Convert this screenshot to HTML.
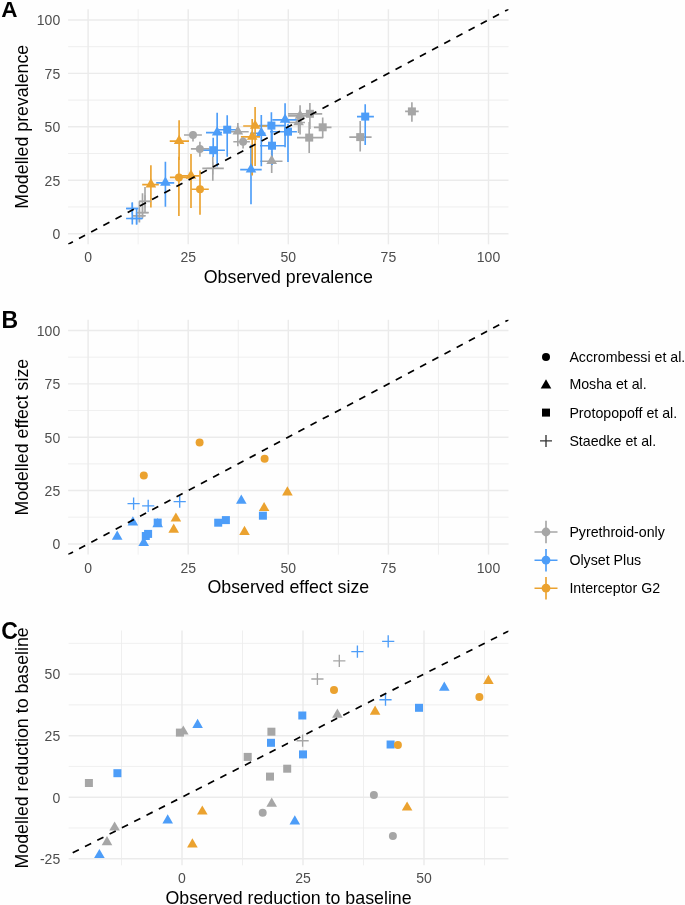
<!DOCTYPE html>
<html><head><meta charset="utf-8"><title>Figure</title>
<style>
html,body{margin:0;padding:0;background:#fefefe;}
body{width:685px;height:905px;overflow:hidden;}
svg{display:block;will-change:transform;}
text{font-family:"Liberation Sans",sans-serif;}
.tk{font-size:14px;fill:#4d4d4d;}
.ti{font-size:17.8px;fill:#000;}
.lg{font-size:14.2px;fill:#000;}
.tag{font-size:23px;font-weight:bold;fill:#000;}
</style></head>
<body>
<svg width="685" height="905" viewBox="0 0 685 905">
<rect width="685" height="905" fill="#fefefe"/>
<defs>
<clipPath id="ca"><rect x="68.08" y="9.24" width="440.44" height="235.09"/></clipPath>
<clipPath id="cb"><rect x="68.08" y="319.8" width="440.44" height="234.8"/></clipPath>
<clipPath id="cc"><rect x="68.7" y="630.5" width="439.7" height="234.8"/></clipPath>
</defs>
<line x1="68.08" y1="206.94" x2="508.52" y2="206.94" stroke="#ebebeb" stroke-width="0.8"/>
<line x1="68.08" y1="153.51" x2="508.52" y2="153.51" stroke="#ebebeb" stroke-width="0.8"/>
<line x1="68.08" y1="100.09" x2="508.52" y2="100.09" stroke="#ebebeb" stroke-width="0.8"/>
<line x1="68.08" y1="46.66" x2="508.52" y2="46.66" stroke="#ebebeb" stroke-width="0.8"/>
<line x1="138.15" y1="9.24" x2="138.15" y2="244.33" stroke="#ebebeb" stroke-width="0.8"/>
<line x1="238.25" y1="9.24" x2="238.25" y2="244.33" stroke="#ebebeb" stroke-width="0.8"/>
<line x1="338.35" y1="9.24" x2="338.35" y2="244.33" stroke="#ebebeb" stroke-width="0.8"/>
<line x1="438.45" y1="9.24" x2="438.45" y2="244.33" stroke="#ebebeb" stroke-width="0.8"/>
<line x1="68.08" y1="233.65" x2="508.52" y2="233.65" stroke="#ebebeb" stroke-width="1.45"/>
<line x1="68.08" y1="180.23" x2="508.52" y2="180.23" stroke="#ebebeb" stroke-width="1.45"/>
<line x1="68.08" y1="126.8" x2="508.52" y2="126.8" stroke="#ebebeb" stroke-width="1.45"/>
<line x1="68.08" y1="73.38" x2="508.52" y2="73.38" stroke="#ebebeb" stroke-width="1.45"/>
<line x1="68.08" y1="19.95" x2="508.52" y2="19.95" stroke="#ebebeb" stroke-width="1.45"/>
<line x1="88.1" y1="9.24" x2="88.1" y2="244.33" stroke="#ebebeb" stroke-width="1.45"/>
<line x1="188.2" y1="9.24" x2="188.2" y2="244.33" stroke="#ebebeb" stroke-width="1.45"/>
<line x1="288.3" y1="9.24" x2="288.3" y2="244.33" stroke="#ebebeb" stroke-width="1.45"/>
<line x1="388.4" y1="9.24" x2="388.4" y2="244.33" stroke="#ebebeb" stroke-width="1.45"/>
<line x1="488.5" y1="9.24" x2="488.5" y2="244.33" stroke="#ebebeb" stroke-width="1.45"/>
<g clip-path="url(#ca)">
<path d="M184 135H201.9" stroke="#a6a6a6" stroke-width="1.65" fill="none"/>
<path d="M190.9 148.9H209.2" stroke="#a6a6a6" stroke-width="1.65" fill="none"/>
<path d="M233.3 141.7H249.9" stroke="#a6a6a6" stroke-width="1.65" fill="none"/>
<path d="M228.7 131.7H248.7" stroke="#a6a6a6" stroke-width="1.65" fill="none"/>
<path d="M260.3 161.2H282.5" stroke="#a6a6a6" stroke-width="1.65" fill="none"/>
<path d="M288.1 115.8H307.4" stroke="#a6a6a6" stroke-width="1.65" fill="none"/>
<path d="M288.1 122.5H305" stroke="#a6a6a6" stroke-width="1.65" fill="none"/>
<path d="M288 113.8H322.2" stroke="#a6a6a6" stroke-width="1.65" fill="none"/>
<path d="M313.9 127.3H331.5" stroke="#a6a6a6" stroke-width="1.65" fill="none"/>
<path d="M297 137.6H323.2" stroke="#a6a6a6" stroke-width="1.65" fill="none"/>
<path d="M349.3 137.1H371.6" stroke="#a6a6a6" stroke-width="1.65" fill="none"/>
<path d="M405.1 111.4H418.7" stroke="#a6a6a6" stroke-width="1.65" fill="none"/>
<path d="M132.8 215.7H145.5" stroke="#a6a6a6" stroke-width="1.65" fill="none"/>
<path d="M137.4 212.6H148.6" stroke="#a6a6a6" stroke-width="1.65" fill="none"/>
<path d="M139.2 201.4H150.7" stroke="#a6a6a6" stroke-width="1.65" fill="none"/>
<path d="M202.3 168.4H223.8" stroke="#a6a6a6" stroke-width="1.65" fill="none"/>
<path d="M156.2 182.9H174.2" stroke="#4d9df8" stroke-width="1.65" fill="none"/>
<path d="M206 132.6H222" stroke="#4d9df8" stroke-width="1.65" fill="none"/>
<path d="M240.2 169.6H261.7" stroke="#4d9df8" stroke-width="1.65" fill="none"/>
<path d="M250.2 133.2H265.4" stroke="#4d9df8" stroke-width="1.65" fill="none"/>
<path d="M272.3 119.9H296.9" stroke="#4d9df8" stroke-width="1.65" fill="none"/>
<path d="M201.2 150.2H224.9" stroke="#4d9df8" stroke-width="1.65" fill="none"/>
<path d="M219 129.7H239" stroke="#4d9df8" stroke-width="1.65" fill="none"/>
<path d="M259 125.6H285" stroke="#4d9df8" stroke-width="1.65" fill="none"/>
<path d="M260 145.7H284.9" stroke="#4d9df8" stroke-width="1.65" fill="none"/>
<path d="M270 131.7H296.9" stroke="#4d9df8" stroke-width="1.65" fill="none"/>
<path d="M357 116.6H373.9" stroke="#4d9df8" stroke-width="1.65" fill="none"/>
<path d="M126.1 208.5H137.9" stroke="#4d9df8" stroke-width="1.65" fill="none"/>
<path d="M126.1 218.5H142" stroke="#4d9df8" stroke-width="1.65" fill="none"/>
<path d="M169.9 177.4H187.5" stroke="#eba22f" stroke-width="1.65" fill="none"/>
<path d="M191.5 189.2H208.8" stroke="#eba22f" stroke-width="1.65" fill="none"/>
<path d="M142.2 184.6H158.8" stroke="#eba22f" stroke-width="1.65" fill="none"/>
<path d="M169.75 141.05H189" stroke="#eba22f" stroke-width="1.65" fill="none"/>
<path d="M181.1 175.8H199.5" stroke="#eba22f" stroke-width="1.65" fill="none"/>
<path d="M243.2 126H267.1" stroke="#eba22f" stroke-width="1.65" fill="none"/>
<path d="M240.9 136.9H260" stroke="#eba22f" stroke-width="1.65" fill="none"/>
<path d="M193 131.2V141.4" stroke="#a6a6a6" stroke-width="1.65" fill="none"/>
<path d="M199.9 141.8V156.8" stroke="#a6a6a6" stroke-width="1.65" fill="none"/>
<path d="M243.1 137.3V148.4" stroke="#a6a6a6" stroke-width="1.65" fill="none"/>
<path d="M237.85 123V146.3" stroke="#a6a6a6" stroke-width="1.65" fill="none"/>
<path d="M271.7 150.5V172.9" stroke="#a6a6a6" stroke-width="1.65" fill="none"/>
<path d="M300.07 105.2V134.4" stroke="#a6a6a6" stroke-width="1.65" fill="none"/>
<path d="M298.6 117V133" stroke="#a6a6a6" stroke-width="1.65" fill="none"/>
<path d="M309.9 102.9V129" stroke="#a6a6a6" stroke-width="1.65" fill="none"/>
<path d="M322.7 117.4V137.8" stroke="#a6a6a6" stroke-width="1.65" fill="none"/>
<path d="M309.2 122V153" stroke="#a6a6a6" stroke-width="1.65" fill="none"/>
<path d="M360.2 121.1V151.5" stroke="#a6a6a6" stroke-width="1.65" fill="none"/>
<path d="M411.9 102.3V121.8" stroke="#a6a6a6" stroke-width="1.65" fill="none"/>
<path d="M139.4 201.4V222.6" stroke="#a6a6a6" stroke-width="1.65" fill="none"/>
<path d="M142.5 193.2V217.7" stroke="#a6a6a6" stroke-width="1.65" fill="none"/>
<path d="M145 187V212.1" stroke="#a6a6a6" stroke-width="1.65" fill="none"/>
<path d="M212.8 156.7V180.8" stroke="#a6a6a6" stroke-width="1.65" fill="none"/>
<path d="M165.4 161.8V206.7" stroke="#4d9df8" stroke-width="1.65" fill="none"/>
<path d="M217.15 112.8V166.6" stroke="#4d9df8" stroke-width="1.65" fill="none"/>
<path d="M251 144.7V204.2" stroke="#4d9df8" stroke-width="1.65" fill="none"/>
<path d="M261.3 115V166.3" stroke="#4d9df8" stroke-width="1.65" fill="none"/>
<path d="M285.07 103.2V147.2" stroke="#4d9df8" stroke-width="1.65" fill="none"/>
<path d="M213.2 137.8V157" stroke="#4d9df8" stroke-width="1.65" fill="none"/>
<path d="M227.2 115.3V156.8" stroke="#4d9df8" stroke-width="1.65" fill="none"/>
<path d="M271.4 112.2V150" stroke="#4d9df8" stroke-width="1.65" fill="none"/>
<path d="M272 129.7V165" stroke="#4d9df8" stroke-width="1.65" fill="none"/>
<path d="M288 123.9V162.1" stroke="#4d9df8" stroke-width="1.65" fill="none"/>
<path d="M365.2 104.3V145" stroke="#4d9df8" stroke-width="1.65" fill="none"/>
<path d="M132.3 202.4V224.6" stroke="#4d9df8" stroke-width="1.65" fill="none"/>
<path d="M136.6 208.5V224.6" stroke="#4d9df8" stroke-width="1.65" fill="none"/>
<path d="M178.9 156.7V216" stroke="#eba22f" stroke-width="1.65" fill="none"/>
<path d="M200 170.5V214.7" stroke="#eba22f" stroke-width="1.65" fill="none"/>
<path d="M150.9 165.3V207.6" stroke="#eba22f" stroke-width="1.65" fill="none"/>
<path d="M179.1 120.3V160" stroke="#eba22f" stroke-width="1.65" fill="none"/>
<path d="M191 154.1V207.9" stroke="#eba22f" stroke-width="1.65" fill="none"/>
<path d="M255.1 107V166" stroke="#eba22f" stroke-width="1.65" fill="none"/>
<path d="M252.2 119V175.4" stroke="#eba22f" stroke-width="1.65" fill="none"/>
<circle cx="193" cy="135" r="4" fill="#a6a6a6"/>
<circle cx="199.9" cy="148.9" r="4" fill="#a6a6a6"/>
<circle cx="243.1" cy="141.7" r="4" fill="#a6a6a6"/>
<path d="M237.85 125.35L243.15 134.55L232.55 134.55Z" fill="#a6a6a6"/>
<path d="M271.7 154.85L277 164.05L266.4 164.05Z" fill="#a6a6a6"/>
<path d="M300.07 109.45L305.37 118.65L294.77 118.65Z" fill="#a6a6a6"/>
<path d="M298.6 116.15L303.9 125.35L293.3 125.35Z" fill="#a6a6a6"/>
<rect x="305.9" y="109.8" width="8" height="8" fill="#a6a6a6"/>
<rect x="318.7" y="123.3" width="8" height="8" fill="#a6a6a6"/>
<rect x="305.2" y="133.6" width="8" height="8" fill="#a6a6a6"/>
<rect x="356.2" y="133.1" width="8" height="8" fill="#a6a6a6"/>
<rect x="407.9" y="107.4" width="8" height="8" fill="#a6a6a6"/>
<path d="M133.3 215.7H145.5M139.4 209.6V221.8" stroke="#a6a6a6" stroke-width="1.35" fill="none"/>
<path d="M136.4 212.6H148.6M142.5 206.5V218.7" stroke="#a6a6a6" stroke-width="1.35" fill="none"/>
<path d="M138.9 201.4H151.1M145 195.3V207.5" stroke="#a6a6a6" stroke-width="1.35" fill="none"/>
<path d="M206.7 168.4H218.9M212.8 162.3V174.5" stroke="#a6a6a6" stroke-width="1.35" fill="none"/>
<path d="M165.4 176.55L170.7 185.75L160.1 185.75Z" fill="#4d9df8"/>
<path d="M217.15 126.25L222.45 135.45L211.85 135.45Z" fill="#4d9df8"/>
<path d="M251 163.25L256.3 172.45L245.7 172.45Z" fill="#4d9df8"/>
<path d="M261.3 126.85L266.6 136.05L256 136.05Z" fill="#4d9df8"/>
<path d="M285.07 113.55L290.37 122.75L279.77 122.75Z" fill="#4d9df8"/>
<rect x="209.2" y="146.2" width="8" height="8" fill="#4d9df8"/>
<rect x="223.2" y="125.7" width="8" height="8" fill="#4d9df8"/>
<rect x="267.4" y="121.6" width="8" height="8" fill="#4d9df8"/>
<rect x="268" y="141.7" width="8" height="8" fill="#4d9df8"/>
<rect x="284" y="127.7" width="8" height="8" fill="#4d9df8"/>
<rect x="361.2" y="112.6" width="8" height="8" fill="#4d9df8"/>
<path d="M126.2 208.5H138.4M132.3 202.4V214.6" stroke="#4d9df8" stroke-width="1.35" fill="none"/>
<path d="M130.5 218.5H142.7M136.6 212.4V224.6" stroke="#4d9df8" stroke-width="1.35" fill="none"/>
<circle cx="178.9" cy="177.4" r="4" fill="#eba22f"/>
<circle cx="200" cy="189.2" r="4" fill="#eba22f"/>
<path d="M150.9 178.25L156.2 187.45L145.6 187.45Z" fill="#eba22f"/>
<path d="M179.1 134.7L184.4 143.9L173.8 143.9Z" fill="#eba22f"/>
<path d="M191 169.45L196.3 178.65L185.7 178.65Z" fill="#eba22f"/>
<path d="M255.1 119.65L260.4 128.85L249.8 128.85Z" fill="#eba22f"/>
<path d="M252.2 130.55L257.5 139.75L246.9 139.75Z" fill="#eba22f"/>
<line x1="-372.36" y1="479.4" x2="948.96" y2="-225.8" stroke="#000" stroke-width="1.7" stroke-dasharray="6.9 6.9" stroke-dashoffset="-1.0"/>
</g>
<text x="60.2" y="233.95" class="tk" text-anchor="end" dominant-baseline="central">0</text>
<text x="60.2" y="180.53" class="tk" text-anchor="end" dominant-baseline="central">25</text>
<text x="60.2" y="127.1" class="tk" text-anchor="end" dominant-baseline="central">50</text>
<text x="60.2" y="73.67" class="tk" text-anchor="end" dominant-baseline="central">75</text>
<text x="60.2" y="20.25" class="tk" text-anchor="end" dominant-baseline="central">100</text>
<text x="88.1" y="262.3" class="tk" text-anchor="middle">0</text>
<text x="188.2" y="262.3" class="tk" text-anchor="middle">25</text>
<text x="288.3" y="262.3" class="tk" text-anchor="middle">50</text>
<text x="388.4" y="262.3" class="tk" text-anchor="middle">75</text>
<text x="488.5" y="262.3" class="tk" text-anchor="middle">100</text>
<line x1="68.08" y1="517.23" x2="508.52" y2="517.23" stroke="#ebebeb" stroke-width="0.8"/>
<line x1="68.08" y1="463.88" x2="508.52" y2="463.88" stroke="#ebebeb" stroke-width="0.8"/>
<line x1="68.08" y1="410.52" x2="508.52" y2="410.52" stroke="#ebebeb" stroke-width="0.8"/>
<line x1="68.08" y1="357.17" x2="508.52" y2="357.17" stroke="#ebebeb" stroke-width="0.8"/>
<line x1="138.15" y1="319.8" x2="138.15" y2="554.6" stroke="#ebebeb" stroke-width="0.8"/>
<line x1="238.25" y1="319.8" x2="238.25" y2="554.6" stroke="#ebebeb" stroke-width="0.8"/>
<line x1="338.35" y1="319.8" x2="338.35" y2="554.6" stroke="#ebebeb" stroke-width="0.8"/>
<line x1="438.45" y1="319.8" x2="438.45" y2="554.6" stroke="#ebebeb" stroke-width="0.8"/>
<line x1="68.08" y1="543.9" x2="508.52" y2="543.9" stroke="#ebebeb" stroke-width="1.45"/>
<line x1="68.08" y1="490.55" x2="508.52" y2="490.55" stroke="#ebebeb" stroke-width="1.45"/>
<line x1="68.08" y1="437.2" x2="508.52" y2="437.2" stroke="#ebebeb" stroke-width="1.45"/>
<line x1="68.08" y1="383.85" x2="508.52" y2="383.85" stroke="#ebebeb" stroke-width="1.45"/>
<line x1="68.08" y1="330.5" x2="508.52" y2="330.5" stroke="#ebebeb" stroke-width="1.45"/>
<line x1="88.1" y1="319.8" x2="88.1" y2="554.6" stroke="#ebebeb" stroke-width="1.45"/>
<line x1="188.2" y1="319.8" x2="188.2" y2="554.6" stroke="#ebebeb" stroke-width="1.45"/>
<line x1="288.3" y1="319.8" x2="288.3" y2="554.6" stroke="#ebebeb" stroke-width="1.45"/>
<line x1="388.4" y1="319.8" x2="388.4" y2="554.6" stroke="#ebebeb" stroke-width="1.45"/>
<line x1="488.5" y1="319.8" x2="488.5" y2="554.6" stroke="#ebebeb" stroke-width="1.45"/>
<g clip-path="url(#cb)">
<path d="M117.2 530.6L122.5 539.8L111.9 539.8Z" fill="#4d9df8"/>
<path d="M132.9 516.3L138.2 525.5L127.6 525.5Z" fill="#4d9df8"/>
<path d="M143.7 536.8L149 546L138.4 546Z" fill="#4d9df8"/>
<path d="M157.7 518L163 527.2L152.4 527.2Z" fill="#4d9df8"/>
<path d="M241.3 494.6L246.6 503.8L236 503.8Z" fill="#4d9df8"/>
<rect x="153.7" y="518.6" width="8" height="8" fill="#4d9df8"/>
<rect x="141.8" y="532" width="8" height="8" fill="#4d9df8"/>
<rect x="144.1" y="529.9" width="8" height="8" fill="#4d9df8"/>
<rect x="214.2" y="518.7" width="8" height="8" fill="#4d9df8"/>
<rect x="221.9" y="516.1" width="8" height="8" fill="#4d9df8"/>
<rect x="258.9" y="511.7" width="8" height="8" fill="#4d9df8"/>
<path d="M127.5 503.6H139.7M133.6 497.5V509.7" stroke="#4d9df8" stroke-width="1.35" fill="none"/>
<path d="M142.1 505.8H154.3M148.2 499.7V511.9" stroke="#4d9df8" stroke-width="1.35" fill="none"/>
<path d="M173.6 501.6H185.8M179.7 495.5V507.7" stroke="#4d9df8" stroke-width="1.35" fill="none"/>
<circle cx="143.8" cy="475.4" r="4" fill="#eba22f"/>
<circle cx="199.6" cy="442.4" r="4" fill="#eba22f"/>
<circle cx="264.6" cy="458.7" r="4" fill="#eba22f"/>
<path d="M175.9 512.4L181.2 521.6L170.6 521.6Z" fill="#eba22f"/>
<path d="M173.7 523.6L179 532.8L168.4 532.8Z" fill="#eba22f"/>
<path d="M264.1 501.9L269.4 511.1L258.8 511.1Z" fill="#eba22f"/>
<path d="M287.4 486.3L292.7 495.5L282.1 495.5Z" fill="#eba22f"/>
<path d="M244.5 525.8L249.8 535L239.2 535Z" fill="#eba22f"/>
<line x1="-372.36" y1="789.31" x2="948.96" y2="85.09" stroke="#000" stroke-width="1.7" stroke-dasharray="6.9 6.9" stroke-dashoffset="-1.0"/>
</g>
<text x="60.2" y="544.2" class="tk" text-anchor="end" dominant-baseline="central">0</text>
<text x="60.2" y="490.85" class="tk" text-anchor="end" dominant-baseline="central">25</text>
<text x="60.2" y="437.5" class="tk" text-anchor="end" dominant-baseline="central">50</text>
<text x="60.2" y="384.15" class="tk" text-anchor="end" dominant-baseline="central">75</text>
<text x="60.2" y="330.8" class="tk" text-anchor="end" dominant-baseline="central">100</text>
<text x="88.1" y="573" class="tk" text-anchor="middle">0</text>
<text x="188.2" y="573" class="tk" text-anchor="middle">25</text>
<text x="288.3" y="573" class="tk" text-anchor="middle">50</text>
<text x="388.4" y="573" class="tk" text-anchor="middle">75</text>
<text x="488.5" y="573" class="tk" text-anchor="middle">100</text>
<line x1="68.7" y1="827.98" x2="508.4" y2="827.98" stroke="#ebebeb" stroke-width="0.8"/>
<line x1="68.7" y1="766.43" x2="508.4" y2="766.43" stroke="#ebebeb" stroke-width="0.8"/>
<line x1="68.7" y1="704.88" x2="508.4" y2="704.88" stroke="#ebebeb" stroke-width="0.8"/>
<line x1="68.7" y1="643.33" x2="508.4" y2="643.33" stroke="#ebebeb" stroke-width="0.8"/>
<line x1="121.5" y1="630.5" x2="121.5" y2="865.3" stroke="#ebebeb" stroke-width="0.8"/>
<line x1="242.5" y1="630.5" x2="242.5" y2="865.3" stroke="#ebebeb" stroke-width="0.8"/>
<line x1="363.5" y1="630.5" x2="363.5" y2="865.3" stroke="#ebebeb" stroke-width="0.8"/>
<line x1="484.5" y1="630.5" x2="484.5" y2="865.3" stroke="#ebebeb" stroke-width="0.8"/>
<line x1="68.7" y1="858.75" x2="508.4" y2="858.75" stroke="#ebebeb" stroke-width="1.45"/>
<line x1="68.7" y1="797.2" x2="508.4" y2="797.2" stroke="#ebebeb" stroke-width="1.45"/>
<line x1="68.7" y1="735.65" x2="508.4" y2="735.65" stroke="#ebebeb" stroke-width="1.45"/>
<line x1="68.7" y1="674.1" x2="508.4" y2="674.1" stroke="#ebebeb" stroke-width="1.45"/>
<line x1="182" y1="630.5" x2="182" y2="865.3" stroke="#ebebeb" stroke-width="1.45"/>
<line x1="303" y1="630.5" x2="303" y2="865.3" stroke="#ebebeb" stroke-width="1.45"/>
<line x1="424" y1="630.5" x2="424" y2="865.3" stroke="#ebebeb" stroke-width="1.45"/>
<g clip-path="url(#cc)">
<circle cx="373.9" cy="795.1" r="4" fill="#a6a6a6"/>
<circle cx="392.9" cy="835.9" r="4" fill="#a6a6a6"/>
<circle cx="262.7" cy="812.8" r="4" fill="#a6a6a6"/>
<path d="M114.6 821.4L119.9 830.6L109.3 830.6Z" fill="#a6a6a6"/>
<path d="M107 836L112.3 845.2L101.7 845.2Z" fill="#a6a6a6"/>
<path d="M183.3 725.4L188.6 734.6L178 734.6Z" fill="#a6a6a6"/>
<path d="M271.7 797.6L277 806.8L266.4 806.8Z" fill="#a6a6a6"/>
<path d="M337.4 708.6L342.7 717.8L332.1 717.8Z" fill="#a6a6a6"/>
<rect x="175.9" y="728.6" width="8" height="8" fill="#a6a6a6"/>
<rect x="84.9" y="779" width="8" height="8" fill="#a6a6a6"/>
<rect x="243.7" y="752.9" width="8" height="8" fill="#a6a6a6"/>
<rect x="267.4" y="727.7" width="8" height="8" fill="#a6a6a6"/>
<rect x="266" y="772.6" width="8" height="8" fill="#a6a6a6"/>
<rect x="283.2" y="764.7" width="8" height="8" fill="#a6a6a6"/>
<path d="M333.2 660.8H345.4M339.3 654.7V666.9" stroke="#a6a6a6" stroke-width="1.35" fill="none"/>
<path d="M311.3 679H323.5M317.4 672.9V685.1" stroke="#a6a6a6" stroke-width="1.35" fill="none"/>
<path d="M296.5 740.7H308.7M302.6 734.6V746.8" stroke="#a6a6a6" stroke-width="1.35" fill="none"/>
<path d="M99.4 848.9L104.7 858.1L94.1 858.1Z" fill="#4d9df8"/>
<path d="M167.7 814.3L173 823.5L162.4 823.5Z" fill="#4d9df8"/>
<path d="M197.6 718.7L202.9 727.9L192.3 727.9Z" fill="#4d9df8"/>
<path d="M294.8 815.3L300.1 824.5L289.5 824.5Z" fill="#4d9df8"/>
<path d="M444.3 681.5L449.6 690.7L439 690.7Z" fill="#4d9df8"/>
<rect x="113.4" y="769.2" width="8" height="8" fill="#4d9df8"/>
<rect x="267" y="738.8" width="8" height="8" fill="#4d9df8"/>
<rect x="298.3" y="711.5" width="8" height="8" fill="#4d9df8"/>
<rect x="299" y="750.4" width="8" height="8" fill="#4d9df8"/>
<rect x="386.6" y="740.5" width="8" height="8" fill="#4d9df8"/>
<rect x="415" y="703.8" width="8" height="8" fill="#4d9df8"/>
<path d="M351.3 651.6H363.5M357.4 645.5V657.7" stroke="#4d9df8" stroke-width="1.35" fill="none"/>
<path d="M382.1 641.3H394.3M388.2 635.2V647.4" stroke="#4d9df8" stroke-width="1.35" fill="none"/>
<path d="M379.4 699.7H391.6M385.5 693.6V705.8" stroke="#4d9df8" stroke-width="1.35" fill="none"/>
<circle cx="334" cy="689.9" r="4" fill="#eba22f"/>
<circle cx="479.4" cy="697.1" r="4" fill="#eba22f"/>
<circle cx="397.9" cy="745" r="4" fill="#eba22f"/>
<path d="M192.4 838.3L197.7 847.5L187.1 847.5Z" fill="#eba22f"/>
<path d="M202.3 805.4L207.6 814.6L197 814.6Z" fill="#eba22f"/>
<path d="M375.1 705.6L380.4 714.8L369.8 714.8Z" fill="#eba22f"/>
<path d="M488.4 674.7L493.7 683.9L483.1 683.9Z" fill="#eba22f"/>
<path d="M407.1 801.4L412.4 810.6L401.8 810.6Z" fill="#eba22f"/>
<line x1="-371" y1="1078.5" x2="948.1" y2="407.5" stroke="#000" stroke-width="1.7" stroke-dasharray="6.9 6.9" stroke-dashoffset="-1.0"/>
</g>
<text x="60.2" y="859.05" class="tk" text-anchor="end" dominant-baseline="central">-25</text>
<text x="60.2" y="797.5" class="tk" text-anchor="end" dominant-baseline="central">0</text>
<text x="60.2" y="735.95" class="tk" text-anchor="end" dominant-baseline="central">25</text>
<text x="60.2" y="674.4" class="tk" text-anchor="end" dominant-baseline="central">50</text>
<text x="182" y="883" class="tk" text-anchor="middle">0</text>
<text x="303" y="883" class="tk" text-anchor="middle">25</text>
<text x="424" y="883" class="tk" text-anchor="middle">50</text>
<text class="ti" text-anchor="middle" transform="translate(27.7 126.79) rotate(-90)">Modelled prevalence</text>
<text class="ti" text-anchor="middle" x="288.3" y="282.8">Observed prevalence</text>
<text class="ti" text-anchor="middle" transform="translate(27.7 437.2) rotate(-90)">Modelled effect size</text>
<text class="ti" text-anchor="middle" x="288.3" y="593.3">Observed effect size</text>
<text class="ti" text-anchor="middle" transform="translate(27.7 747.9) rotate(-90)">Modelled reduction to baseline</text>
<text class="ti" text-anchor="middle" x="288.55" y="904.3">Observed reduction to baseline</text>
<text class="tag" x="1.2" y="17.3" style="font-size:22.5px">A</text>
<text class="tag" x="1.6" y="328.0">B</text>
<text class="tag" x="1.2" y="638.6">C</text>
<circle cx="546" cy="357" r="4" fill="#000"/>
<text class="lg" x="569.4" y="362">Accrombessi et al.</text>
<path d="M546 379.3L551.3 388.5L540.7 388.5Z" fill="#000"/>
<text class="lg" x="569.4" y="389.3">Mosha et al.</text>
<rect x="542" y="408.6" width="8" height="8" fill="#000"/>
<text class="lg" x="569.4" y="417.6">Protopopoff et al.</text>
<path d="M540.02 440.9H551.98M546 434.92V446.88" stroke="#333" stroke-width="1.35" fill="none"/>
<text class="lg" x="569.4" y="445.7">Staedke et al.</text>
<path d="M534.5 532H557.5M546 520.8V543.2" stroke="#a6a6a6" stroke-width="1.65" fill="none"/>
<circle cx="546" cy="532" r="4.4" fill="#a6a6a6"/>
<text class="lg" x="569.4" y="537">Pyrethroid-only</text>
<path d="M534.5 560.2H557.5M546 549V571.4" stroke="#4d9df8" stroke-width="1.65" fill="none"/>
<circle cx="546" cy="560.2" r="4.4" fill="#4d9df8"/>
<text class="lg" x="569.4" y="565.2">Olyset Plus</text>
<path d="M534.5 588.2H557.5M546 577V599.4" stroke="#eba22f" stroke-width="1.65" fill="none"/>
<circle cx="546" cy="588.2" r="4.4" fill="#eba22f"/>
<text class="lg" x="569.4" y="593.2">Interceptor G2</text>
</svg>
</body></html>
